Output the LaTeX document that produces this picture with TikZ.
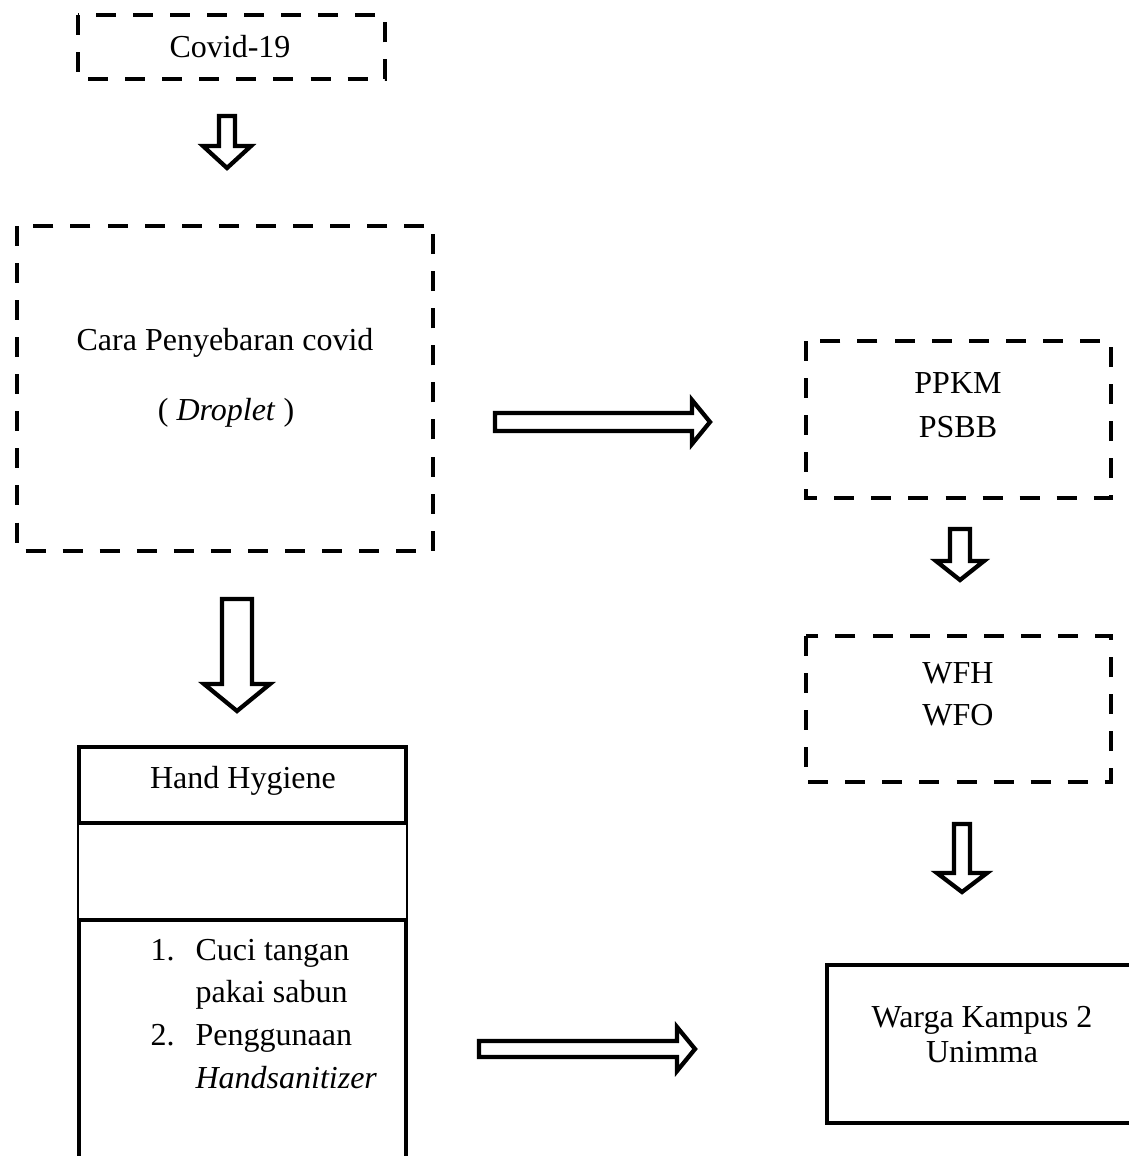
\documentclass[tikz,border=0pt]{standalone}
\usepackage{fontspec}
\setmainfont{Liberation Serif}

\tikzset{
  dashbox/.style={line width=1.8pt, dash pattern=on 7.5pt off 6.4pt},
  boldbox/.style={line width=1.6pt},
  thinbox/.style={line width=0.5pt},
  blockarr/.style={line width=1.6pt, fill=white, line join=miter},
  lbl/.style={anchor=base, inner sep=0pt, font=\fontsize{12}{16}\selectfont},
}

\begin{document}
\begin{tikzpicture}[x=0.375pt, y=-0.375pt]
                \useasboundingbox (0,0) rectangle (1128,1156);

                % dashed boxes
                \draw[dashbox] (78,15) rectangle (385,79);
                \draw[dashbox] (17,226) rectangle (433,551);
                \draw[dashbox] (806,341) rectangle (1111,498);
                \draw[dashbox] (806,636) rectangle (1111,782);

                % solid boxes
                \draw[boldbox] (79,747) rectangle (406,823);
                \draw[thinbox] (78,823) -- (78,920) (407,823) -- (407,920);
                \draw[boldbox] (79,1170) -- (79,920) -- (406,920) -- (406,1170);
                \draw[boldbox] (1140,965) -- (827,965) -- (827,1123) -- (1140,1123);

                % block arrows
                \draw[blockarr] (219,116) -- (235,116) -- (235,146) -- (251,146)
                    -- (227,168) -- (203,146) -- (219,146) -- cycle;
                \draw[blockarr] (222,599) -- (252,599) -- (252,684) -- (270,684)
                    -- (237,711) -- (204,684) -- (222,684) -- cycle;
                \draw[blockarr] (950,529) -- (970,529) -- (970,561) -- (984,561)
                    -- (960,580) -- (936,561) -- (950,561) -- cycle;
                \draw[blockarr] (954,824) -- (970,824) -- (970,873) -- (987,873)
                    -- (962,892) -- (937,873) -- (954,873) -- cycle;
                \draw[blockarr] (495,413) -- (692,413) -- (692,400) -- (710,422)
                    -- (692,444) -- (692,431) -- (495,431) -- cycle;
                \draw[blockarr] (479,1041) -- (677,1041) -- (677,1027) -- (695,1049)
                    -- (677,1071) -- (677,1057) -- (479,1057) -- cycle;

                % texts
                \node[lbl] (covid) at (230,57.5) {Covid-19};
                \node[lbl] (cara) at (225,350) {Cara Penyebaran covid};
                \node[lbl] (droplet) at (226,420) {( \textit{Droplet} )};
                \node[lbl] (ppkm) at (958,393.5) {PPKM};
                \node[lbl] (psbb) at (958,437) {PSBB};
                \node[lbl] (wfh) at (958,683) {WFH};
                \node[lbl] (wfo) at (958,725) {WFO};
                \node[lbl] (hand) at (243,788) {Hand Hygiene};
                \node[lbl, anchor=base west] (langkah) at (150,960) {%
                    \begin{tabular}[t]{@{}l@{\hspace{7.9pt}}l@{}}
                    1. & Cuci tangan\\
                       & pakai sabun\\
                    2. & Penggunaan\\
                       & \textit{Handsanitizer}
                    \end{tabular}};
                \node[lbl] (warga) at (982,1027) {Warga Kampus 2};
                \node[lbl] (unimma) at (982,1062) {Unimma};
\end{tikzpicture}
\end{document}
